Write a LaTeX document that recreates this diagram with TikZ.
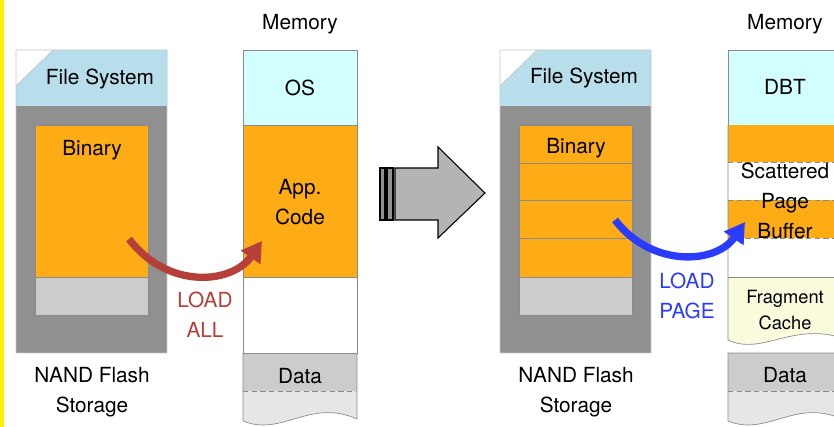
\documentclass[tikz,border=0pt]{standalone}
\usepackage{fontspec}
\setmainfont{TeX Gyre Heros}
\usetikzlibrary{arrows.meta}

\definecolor{fsblue}{HTML}{B7DEEA}
\definecolor{nandgray}{HTML}{909090}
\definecolor{codeorange}{HTML}{FDAC15}
\definecolor{slackgray}{HTML}{CCCCCC}
\definecolor{oscyan}{HTML}{D2FFFF}
\definecolor{heapgray}{HTML}{E6E6E6}
\definecolor{fragyellow}{HTML}{FAFADC}
\definecolor{loadred}{HTML}{B63F39}
\definecolor{loadblue}{HTML}{2A3CFF}
\definecolor{edgegray}{HTML}{8A8A8A}
\definecolor{bigarrow}{HTML}{B4B4B4}

\begin{document}
\begin{tikzpicture}[x=0.75pt,y=-0.75pt,
  lbl/.style={font=\fontsize{15.6}{22.5}\selectfont,align=center,inner sep=0pt},
  smalllbl/.style={font=\fontsize{13.7}{19.5}\selectfont,align=center,inner sep=0pt},
  cell/.style={draw=edgegray,line width=0.5pt},
  sepline/.style={draw=edgegray,line width=0.6pt,dash pattern=on 4pt off 2.5pt},
  loadarrow/.style={line width=5.5pt,-{Triangle[length=15pt,width=17pt]}}]

  \useasboundingbox (0,0) rectangle (834,427);
  \clip (0,0) rectangle (834,427);
  \fill [yellow] (0,0) rectangle (3.5,427);

  % the two flash storages
  \foreach \dx in {0,484} {
    \begin{scope}[xshift=\dx*0.75pt]
      \fill [nandgray] (16,106) rectangle (167,353);
      \fill [fsblue] (16,86) -- (53,50) -- (167,50) -- (167,106) -- (16,106) -- cycle;
      \draw [edgegray!50,line width=0.5pt] (16,86) -- (53,50) (16,50) rectangle (167,353);
      \draw [cell,fill=codeorange] (35,125) rectangle (148,277);
      \draw [cell,fill=slackgray] (35,277) rectangle (148,315);
    \end{scope}
  }
  \foreach \y in {163,200,238}
    \draw [cell] (519,\y) -- (632,\y);

  \node [lbl] (fsleft) at (100,79) {File System};
  \node [lbl] (binleft) at (92,150) {Binary};
  \node [lbl] (nandleft) at (92,392) {NAND Flash\\Storage};
  \node [lbl] (fsright) at (584,78) {File System};
  \node [lbl] (binright) at (576,148) {Binary};
  \node [lbl] (nandright) at (576,392) {NAND Flash\\Storage};

  % memory before
  \draw [cell,fill=oscyan] (243,50) rectangle (357,125);
  \draw [cell,fill=codeorange] (243,125) rectangle (357,277);
  \draw [cell,fill=white] (243,277) rectangle (357,353);
  \fill [slackgray] (243,353) rectangle (357,391);
  \fill [heapgray] (243,391) -- (243,421) .. controls (282,437) and (310,398) .. (357,419) -- (357,391) -- cycle;
  \draw [cell] (243,353) -- (357,353);
  \draw [cell] (243,353) -- (243,421) .. controls (282,437) and (310,398) .. (357,419) -- (357,353);
  \draw [sepline] (243,391) -- (357,391);

  \node [lbl] (memleft) at (300,24) {Memory};
  \node [lbl] (os) at (300,88) {OS};
  \node [lbl] (appcode) at (300,202) {App.\\Code};
  \node [lbl] (dataleft) at (300,376) {Data};

  % memory after
  \draw [cell,fill=oscyan] (728,50) rectangle (842,125);
  \fill [codeorange] (728,125) rectangle (842,162);
  \fill [codeorange] (728,200) rectangle (842,238);
  \fill [fragyellow] (728,277) -- (728,340) .. controls (762,356) and (792,322) .. (842,338) -- (842,277) -- cycle;
  \draw [cell] (728,125) -- (728,340) .. controls (762,356) and (792,322) .. (842,338);
  \draw [cell] (728,277) -- (842,277);
  \foreach \y in {162,200,238}
    \draw [sepline] (728,\y) -- (842,\y);
  \fill [slackgray] (728,353) rectangle (842,391);
  \fill [heapgray] (728,391) -- (728,421) .. controls (767,437) and (795,398) .. (842,419) -- (842,391) -- cycle;
  \draw [cell] (842,353) -- (728,353) -- (728,421) .. controls (767,437) and (795,398) .. (842,419);
  \draw [sepline] (728,391) -- (842,391);

  \node [lbl] (memright) at (785,24) {Memory};
  \node [lbl] (dbt) at (785,87) {DBT};
  \node [lbl] (pagebuf) at (785,201) {Scattered\\Page\\Buffer};
  \node [smalllbl] (fragcache) at (785,310) {Fragment\\Cache};
  \node [lbl] (dataright) at (785,375) {Data};

  % transition arrow
  \draw [fill=nandgray,line width=0.8pt] (380,168) rectangle (385,220) (387,168) rectangle (393,220);
  \draw [fill=bigarrow,line width=0.8pt] (395,168) -- (438,168) -- (438,147) -- (485,193)
    -- (438,238) -- (438,220) -- (395,220) -- cycle;

  % loads
  \coordinate (allsrc) at (129,239);
  \coordinate (alldst) at (262,241);
  \draw [loadarrow,loadred] (allsrc) .. controls (168,290) and (232,284) .. (alldst);
  \node [lbl,text=loadred] (loadall) at (205,315) {LOAD\\ALL};

  \coordinate (pagesrc) at (615,220);
  \coordinate (pagedst) at (745,222);
  \draw [loadarrow,loadblue] (pagesrc) .. controls (652,268) and (716,264) .. (pagedst);
  \node [lbl,text=loadblue] (loadpage) at (687,296) {LOAD\\PAGE};
\end{tikzpicture}
\end{document}
